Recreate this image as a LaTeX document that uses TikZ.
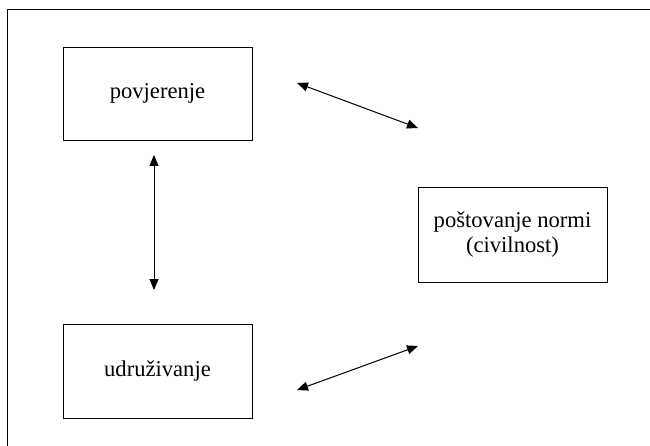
\documentclass[tikz,border=0pt]{standalone}
\usepackage{fontspec}
\setmainfont{Liberation Serif}
\usetikzlibrary{arrows.meta}
\begin{document}
\begin{tikzpicture}[x=1pt,y=-1pt,
  box/.style={draw, line width=0.9pt, minimum width=189pt, inner sep=0pt, align=center,
    font=\fontsize{22.6}{25}\selectfont},
  link/.style={line width=1pt, {Triangle[length=11pt,width=9pt]}-{Triangle[length=11pt,width=9pt]}}]
\useasboundingbox (0,0) rectangle (650,446);
\draw[line width=1pt] (7,446) -- (7,10) -- (650,10);
\node[box, minimum height=93pt] (povj) at (157.5,93.5) {povjerenje};
\node[box, minimum height=95pt] (post) at (512.5,234.5) {poštovanje normi\\(civilnost)};
\node[box, minimum height=94pt] (udr) at (157.5,371) {udruživanje};
\coordinate (a1) at (297,83);
\coordinate (a2) at (418,128);
\coordinate (v1) at (154,155);
\coordinate (v2) at (154,290);
\coordinate (b1) at (297,390);
\coordinate (b2) at (418,346);
\draw[link] (a1) -- (a2);
\draw[link] (v1) -- (v2);
\draw[link] (b1) -- (b2);
\end{tikzpicture}
\end{document}
